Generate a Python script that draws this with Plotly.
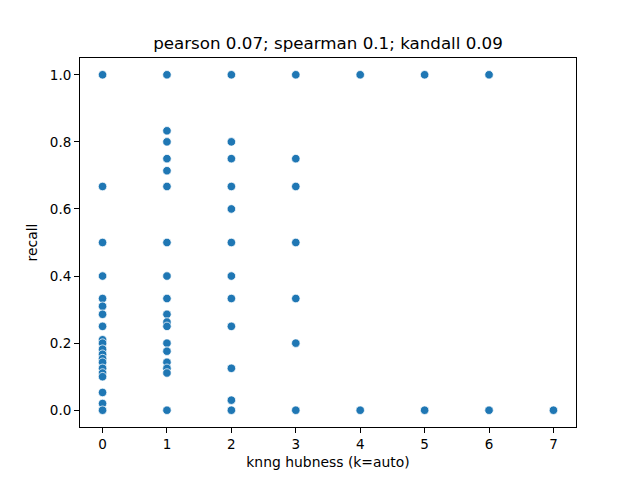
import plotly.graph_objects as go

# hubness value -> recall values found at that hubness
hub_0 = [1.0, 0.667, 0.5, 0.4, 0.333, 0.31, 0.286, 0.25, 0.21, 0.2, 0.182,
         0.167, 0.154, 0.143, 0.125, 0.111, 0.1, 0.053, 0.02, 0.0]
hub_1 = [1.0, 0.833, 0.8, 0.75, 0.714, 0.667, 0.5, 0.4, 0.333, 0.286, 0.263,
         0.25, 0.2, 0.176, 0.143, 0.125, 0.111, 0.0]
hub_2 = [1.0, 0.8, 0.75, 0.667, 0.6, 0.5, 0.4, 0.333, 0.25, 0.125, 0.03, 0.0]
hub_3 = [1.0, 0.75, 0.667, 0.5, 0.333, 0.2, 0.0]
hub_4 = [1.0, 0.0]
hub_5 = [1.0, 0.0]
hub_6 = [1.0, 0.0]
hub_7 = [0.0]

groups = [hub_0, hub_1, hub_2, hub_3, hub_4, hub_5, hub_6, hub_7]
xs = []
ys = []
for h, vals in enumerate(groups):
    xs += [h] * len(vals)
    ys += vals

font = "DejaVu Sans, Liberation Sans, sans-serif"

fig = go.Figure()
fig.add_trace(go.Scatter(
    x=xs, y=ys, mode="markers",
    marker=dict(color="#1f77b4", size=8.5, line=dict(color="white", width=0.75)),
    showlegend=False,
))

axis_style = dict(
    showline=True, linecolor="black", linewidth=1, mirror=True,
    ticks="outside", ticklen=5, tickwidth=1, tickcolor="black",
    showgrid=False, zeroline=False,
    tickfont=dict(family=font, size=13.5, color="black"),
)

fig.update_xaxes(range=[-0.35, 7.35], tickmode="array", tickvals=list(range(8)),
                 title=dict(text="knng hubness (k=auto)", font=dict(family=font, size=13.9, color="black"),
                            standoff=6),
                 **axis_style)
fig.update_yaxes(range=[-0.05, 1.05], tickmode="array",
                 tickvals=[0.0, 0.2, 0.4, 0.6, 0.8, 1.0],
                 ticktext=["0.0", "0.2", "0.4", "0.6", "0.8", "1.0"],
                 title=dict(text="recall", font=dict(family=font, size=13.9, color="black"),
                            standoff=8),
                 **axis_style)

# page puts the figure 8px in from the top-left, so shift margins to compensate
fig.update_layout(
    width=640, height=480, autosize=False,
    margin=dict(l=72, r=72, t=50, b=61),
    paper_bgcolor="white", plot_bgcolor="white",
    title=dict(text="pearson 0.07; spearman 0.1; kandall 0.09",
               font=dict(family=font, size=16.7, color="black"),
               x=0.5, xanchor="center", xref="paper",
               y=1 - 35 / 480, yref="container", yanchor="middle"),
)

fig.write_html("out.html")
